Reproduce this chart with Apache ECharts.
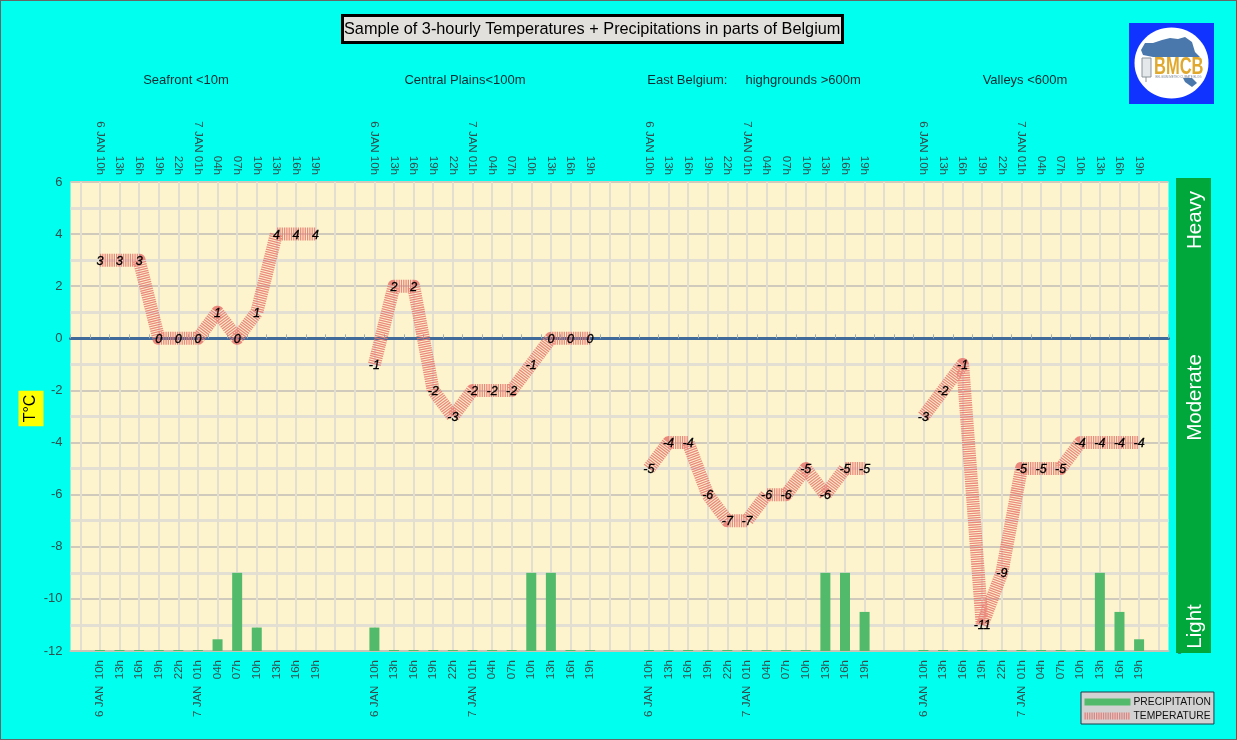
<!DOCTYPE html>
<html><head><meta charset="utf-8">
<style>html,body{margin:0;padding:0;background:#00ffee;overflow:hidden}
#c{width:1237px;height:740px;box-sizing:border-box}
#b{position:absolute;left:0;top:0;width:1237px;height:740px;box-sizing:border-box;border:1px solid #666;border-right-color:#a0432f;pointer-events:none}</style>
<script src="https://cdn.jsdelivr.net/npm/echarts@6/dist/echarts.min.js"></script>
</head><body><div id="c"></div><div id="b"></div>
<script>
const hours = ['6 JAN 10h','13h','16h','19h','22h','7 JAN 01h','04h','07h','10h','13h','16h','19h'];
const hoursBottom = ['6 JAN  10h','13h','16h','19h','22h','7 JAN  01h','04h','07h','10h','13h','16h','19h'];
const seafrontT = [3,3,3,0,0,0,1,0,1,4,4,4];
const plainsT   = [-1,2,2,-2,-3,-2,-2,-2,-1,0,0,0];
const eastT     = [-5,-4,-4,-6,-7,-7,-6,-6,-5,-6,-5,-5];
const valleysT  = [-3,-2,-1,-11,-9,-5,-5,-5,-4,-4,-4,-4];
const seafrontP = [0,0,0,0,0,0,0.45,3,0.9,null,null,null];
const plainsP   = [0.9,0,0,0,0,0,0,0,3,3,0,0];
const eastP     = [0,0,0,0,0,0,0,0,0,3,3,1.5];
const valleysP  = [0,0,0,0,0,0,0,0,0,3,1.5,0.45];
const groupTitles = ['Seafront <10m','Central Plains<100m','East Belgium:     highgrounds >600m','Valleys <600m'];

function join(groups, blank){
  const out=[blank];
  groups.forEach((g,i)=>{ out.push(...g); if(i<groups.length-1) out.push(blank,blank); });
  out.push(blank); return out;
}
const catsTop = join([hours,hours,hours,hours],'');
const catsBottom = join([hoursBottom,hoursBottom,hoursBottom,hoursBottom],'');
const catIdx = catsTop.map((_,i)=>String(i));
const temps = join([seafrontT,plainsT,eastT,valleysT],null);
const precs = join([seafrontP,plainsP,eastP,valleysP],null);

const chart = echarts.init(document.getElementById('c'),null,{renderer:'canvas'});
const F='"Liberation Sans",Arial,sans-serif';
const lab=(arr)=>({show:true,interval:0,rotate:90,fontFamily:F,fontSize:11.5,color:'#2f4f4f',formatter:(v,i)=>arr[i]});
const subs=[[186,79],[465,79],[754,79],[1025,79]];
const belgium=[[1141,50],[1145,43],[1153,43],[1162,40],[1170,38],[1178,39],[1185,37],[1192,42],[1195,52],[1200,57],[1153,57],[1143,55]];
const lux=[[1183,78],[1192,78],[1197,83],[1192,87],[1185,82]];
chart.setOption({
  animation:false,
  backgroundColor:'#00ffee',
  title:[
    {text:'Sample of 3-hourly Temperatures + Precipitations in parts of Belgium',left:342,top:15,
     backgroundColor:'#e2e0dc',borderColor:'#000',borderWidth:3,borderRadius:0,padding:[7,2,5,2],
     textStyle:{fontFamily:F,fontSize:16.3,fontWeight:'normal',color:'#000'}},
    ...groupTitles.map((t,i)=>({text:t,left:subs[i][0],top:subs[i][1]-5,textAlign:'center',padding:0,
      textStyle:{fontFamily:F,fontSize:13,fontWeight:'normal',color:'#0c2b33'}}))
  ],
  legend:{orient:'vertical',left:1081,top:692,padding:[5,3,3,0],itemGap:4,itemWidth:46,itemHeight:7,
    backgroundColor:'#d2d2d2',borderColor:'#1f3a4a',borderWidth:1,borderRadius:0,
    textStyle:{fontFamily:F,fontSize:10.3,color:'#111',padding:[0,0,0,-2]},
    lineStyle:{width:7},
    data:[{name:'PRECIPITATION',icon:'rect'},{name:'TEMPERATURE'}]},
  grid:{left:70.5,top:182,width:1098,height:469,containLabel:false,backgroundColor:'#fdf3cc',show:true,borderWidth:0},
  xAxis:[
    {type:'category',position:'bottom',data:catIdx,boundaryGap:true,
     axisLine:{show:true,onZero:false,lineStyle:{color:'#c9c4b6',width:2}},axisTick:{show:false},
     axisLabel:{...lab(catsBottom),margin:9},
     splitLine:{show:true,alignWithLabel:true,interval:0,lineStyle:{color:'#e3dfd0',width:2}}},
    {type:'category',position:'top',data:catIdx,boundaryGap:true,
     axisLine:{show:false,onZero:false},axisTick:{show:false},
     axisLabel:{...lab(catsTop),margin:7},splitLine:{show:false}},
    {type:'category',position:'bottom',data:catIdx,boundaryGap:true,z:1,
     axisLine:{show:true,onZero:true,lineStyle:{color:'#3f6a9a',width:3}},
     axisTick:{show:true,interval:0,length:4,inside:true,lineStyle:{color:'#9fb0b8',width:1}},
     axisLabel:{show:false},splitLine:{show:false}}
  ],
  yAxis:[
    {type:'value',min:-12,max:6,interval:2,
     axisLine:{show:false},axisTick:{show:false},
     axisLabel:{fontFamily:F,fontSize:13,color:'#2f4f4f',margin:8},
     splitLine:{show:true,lineStyle:{color:'#cfcabb',width:2}},
     minorTick:{show:false,splitNumber:2},
     minorSplitLine:{show:true,lineStyle:{color:'#e3dfd3',width:3}}},
    {type:'value',min:0,max:18,interval:18,position:'right',offset:0,
     axisLine:{show:false},axisTick:{show:false},splitLine:{show:false},
     axisLabel:{fontFamily:F,fontSize:11,color:'#2f6f6f',margin:8,formatter:v=>v===0?'0':''}}
  ],
  series:[
    {name:'PRECIPITATION',type:'bar',xAxisIndex:0,yAxisIndex:1,data:precs,barWidth:10,barMinHeight:1,z:3,
     itemStyle:{color:'#52bb6b'}},
    {name:'TEMPERATURE',type:'line',xAxisIndex:0,yAxisIndex:0,data:temps,connectNulls:false,z:4,
     symbol:'circle',symbolSize:1,showSymbol:true,showAllSymbol:true,itemStyle:{color:'rgba(0,0,0,0)'},
     lineStyle:{color:'#e8756f',width:13,type:[1.3,1],cap:'butt',join:'round',opacity:.85},
     label:{show:true,position:'inside',offset:[0,1],fontFamily:F,fontSize:12.5,fontStyle:'italic',fontWeight:'normal',color:'#000',
       textBorderColor:'#000',textBorderWidth:0.3,formatter:p=>p.value}}
  ],
  graphic:[
    {type:'text',z:51,x:31,y:408.5,rotation:Math.PI/2,style:{text:'T°C',fill:'#000',font:'16px '+F,align:'center',verticalAlign:'middle',backgroundColor:'#ffff00',padding:[5,4,4,4]}},
    {type:'rect',z:50,shape:{x:1176,y:178,width:35,height:475},style:{fill:'#00a83c'}},
    {type:'text',z:51,x:1195,y:220,rotation:Math.PI/2,style:{text:'Heavy',fill:'#fff',font:'20.5px '+F,align:'center',verticalAlign:'middle'}},
    {type:'text',z:51,x:1195,y:397.5,rotation:Math.PI/2,style:{text:'Moderate',fill:'#fff',font:'20.5px '+F,align:'center',verticalAlign:'middle'}},
    {type:'text',z:51,x:1195,y:626.5,rotation:Math.PI/2,style:{text:'Light',fill:'#fff',font:'20.5px '+F,align:'center',verticalAlign:'middle'}},
    {type:'rect',z:50,shape:{x:1129,y:23,width:85,height:81},style:{fill:'#1133ff'}},
    {type:'ellipse',z:51,shape:{cx:1171.5,cy:63,rx:37,ry:35.5},style:{fill:'#fff'}},
    {type:'polygon',z:52,shape:{points:belgium},style:{fill:'#4a78ad'}},
    {type:'polygon',z:52,shape:{points:lux},style:{fill:'#4a78ad'}},
    {type:'rect',z:52,shape:{x:1142,y:58,width:9,height:19},style:{fill:'#e4e8ea',stroke:'#8a949a',lineWidth:1}},
    {type:'line',z:53,shape:{x1:1146,y1:77,x2:1146,y2:82},style:{stroke:'#8a949a',lineWidth:1}},
    {type:'text',z:53,x:1154,y:55,scaleY:1.45,style:{text:'BMCB',fill:'#e0a92e',font:'bold 16.5px '+F,verticalAlign:'top'}},
    {type:'text',z:53,x:1178.5,y:75.5,style:{text:'BELGIUM METEO CLIMATE BLOG',fill:'#7a8a9a',font:'2.9px '+F,align:'center'}}
  ]
});
</script></body></html>
